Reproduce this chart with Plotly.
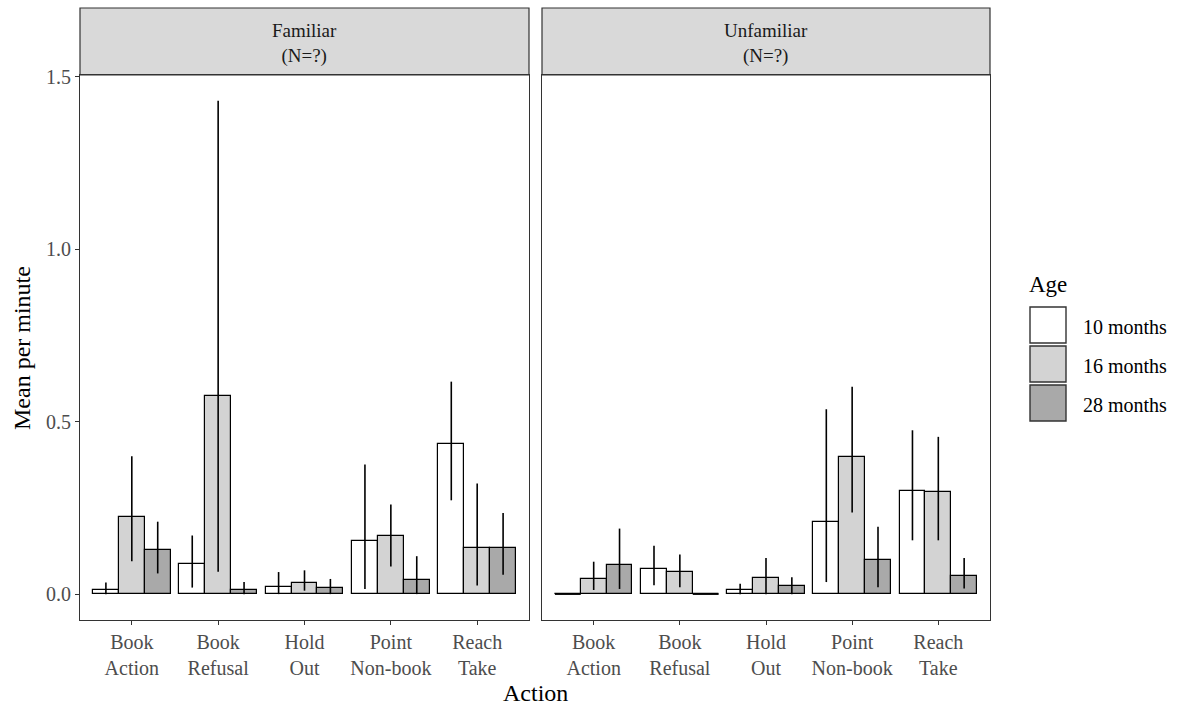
import numpy as np
import plotly.graph_objects as go

# Categories and groups
actions = ["Book<br>Action", "Book<br>Refusal", "Hold<br>Out", "Point<br>Non-book", "Reach<br>Take"]
ages = ["10 months", "16 months", "28 months"]
panels = ["Familiar<br>(N=?)", "Unfamiliar<br>(N=?)"]

# Mean per minute, one row per age group (10, 16, 28 months)
familiar_mean = [
    [0.012, 0.088, 0.022, 0.153, 0.435],
    [0.223, 0.575, 0.033, 0.169, 0.133],
    [0.127, 0.012, 0.017, 0.042, 0.133],
]
familiar_lower = [
    [0.000, 0.019, 0.000, 0.015, 0.272],
    [0.095, 0.065, 0.010, 0.080, 0.025],
    [0.060, 0.000, 0.000, 0.000, 0.056],
]
familiar_upper = [
    [0.034, 0.170, 0.064, 0.376, 0.616],
    [0.400, 1.430, 0.069, 0.260, 0.321],
    [0.210, 0.035, 0.044, 0.110, 0.235],
]

unfamiliar_mean = [
    [0.000, 0.072, 0.012, 0.208, 0.300],
    [0.043, 0.064, 0.048, 0.399, 0.295],
    [0.084, 0.000, 0.023, 0.098, 0.053],
]
unfamiliar_lower = [
    [0.000, 0.026, 0.000, 0.035, 0.156],
    [0.012, 0.020, 0.000, 0.237, 0.156],
    [0.015, 0.000, 0.000, 0.020, 0.016],
]
unfamiliar_upper = [
    [0.000, 0.140, 0.030, 0.536, 0.475],
    [0.094, 0.115, 0.105, 0.601, 0.456],
    [0.190, 0.000, 0.049, 0.195, 0.105],
]

fills = ["#FFFFFF", "#D3D3D3", "#A9A9A9"]
bar_w = 0.3
serif = "Liberation Serif, Times New Roman, serif"
border = "#333333"

fig = go.Figure()

panel_data = [
    (familiar_mean, familiar_lower, familiar_upper, "x", "y"),
    (unfamiliar_mean, unfamiliar_lower, unfamiliar_upper, "x2", "y2"),
]

idx = np.arange(len(actions))
for means, lows, highs, xa, ya in panel_data:
    for k, age in enumerate(ages):
        m = np.array(means[k], dtype=float)
        lo = np.array(lows[k], dtype=float)
        hi = np.array(highs[k], dtype=float)
        xs = idx + (k - 1) * bar_w
        has_err = hi > lo
        fig.add_trace(go.Bar(
            x=xs, y=m, width=bar_w, xaxis=xa, yaxis=ya,
            marker=dict(color=fills[k], line=dict(color="black", width=1.2)),
            error_y=dict(type="data", symmetric=False,
                         array=np.where(has_err, hi - m, 0),
                         arrayminus=np.where(has_err, m - lo, 0),
                         width=0, thickness=1.6, color="black"),
            showlegend=False, name=age,
        ))
        # zero-height bars still show their outline as a flat line
        zx, zy = [], []
        for xi, mi in zip(xs, m):
            if mi == 0:
                zx += [xi - bar_w / 2, xi + bar_w / 2, None]
                zy += [mi, mi, None]
        if zx:
            fig.add_trace(go.Scatter(x=zx, y=zy, mode="lines", xaxis=xa, yaxis=ya,
                                     line=dict(color="black", width=1.6),
                                     showlegend=False, hoverinfo="skip"))

W, L, R = 1194, 80, 204
H, T, B = 706, 75, 86
pw = W - L - R
ph = H - T - B

def px_x(p):
    return (p - L) / pw

def px_y(p):
    return (H - B - p) / ph

left_dom = [0, px_x(529)]
right_dom = [px_x(542), 1]

xcommon = dict(
    tickmode="array", tickvals=list(idx), ticktext=actions,
    range=[-0.6, len(actions) - 0.4],
    showline=True, mirror=True, linecolor=border, linewidth=1.2,
    ticks="outside", ticklen=4, tickcolor=border, tickwidth=1.2,
    tickfont=dict(family=serif, size=20, color="#4D4D4D"),
    showgrid=False, zeroline=False,
)
ycommon = dict(
    range=[-0.075, 1.505],
    showline=True, mirror=True, linecolor=border, linewidth=1.2,
    showgrid=False, zeroline=False,
)

fig.update_layout(
    width=W, height=H,
    margin=dict(l=L, r=R, t=T, b=B),
    paper_bgcolor="white", plot_bgcolor="white",
    bargap=0, barmode="overlay",
    xaxis=dict(domain=left_dom, anchor="y", **xcommon),
    xaxis2=dict(domain=right_dom, anchor="y2", **xcommon),
    yaxis=dict(domain=[0, 1], anchor="x",
               tickmode="array", tickvals=[0, 0.5, 1.0, 1.5], tickformat=".1f",
               ticks="outside", ticklen=4, tickcolor=border, tickwidth=1.2,
               tickfont=dict(family=serif, size=20, color="#4D4D4D"),
               **ycommon),
    yaxis2=dict(domain=[0, 1], anchor="x2", matches="y",
                showticklabels=False, ticks="", **ycommon),
    showlegend=False,
)

shapes = []
annotations = []

# Facet strips
for dom, label in zip([left_dom, right_dom], panels):
    shapes.append(dict(type="rect", xref="paper", yref="paper",
                       x0=dom[0], x1=dom[1], y0=1, y1=px_y(8),
                       fillcolor="#D9D9D9", line=dict(color=border, width=1.2),
                       layer="below"))
    annotations.append(dict(xref="paper", yref="paper",
                            x=(dom[0] + dom[1]) / 2, y=px_y(43),
                            text=label, showarrow=False,
                            font=dict(family=serif, size=19, color="#1A1A1A"),
                            xanchor="center", yanchor="middle"))

# Axis titles
annotations.append(dict(xref="paper", yref="paper", x=px_x(535), y=px_y(693),
                        text="Action", showarrow=False,
                        font=dict(family=serif, size=24, color="black"),
                        xanchor="center", yanchor="middle"))
annotations.append(dict(xref="paper", yref="paper", x=px_x(22), y=px_y(348),
                        text="Mean per minute", showarrow=False, textangle=-90,
                        font=dict(family=serif, size=24, color="black"),
                        xanchor="center", yanchor="middle"))

# Legend
annotations.append(dict(xref="paper", yref="paper", x=px_x(1027), y=px_y(284),
                        text="Age", showarrow=False,
                        font=dict(family=serif, size=23, color="black"),
                        xanchor="left", yanchor="middle"))
key_top = [307, 346, 385]
for k, age in enumerate(ages):
    y0 = key_top[k]
    shapes.append(dict(type="rect", xref="paper", yref="paper",
                       x0=px_x(1030), x1=px_x(1066), y0=px_y(y0), y1=px_y(y0 + 36),
                       fillcolor=fills[k], line=dict(color=border, width=1.4)))
    annotations.append(dict(xref="paper", yref="paper", x=px_x(1081), y=px_y(y0 + 20),
                            text=age, showarrow=False,
                            font=dict(family=serif, size=20, color="black"),
                            xanchor="left", yanchor="middle"))

fig.update_layout(shapes=shapes, annotations=annotations)

fig.write_html("out.html")
